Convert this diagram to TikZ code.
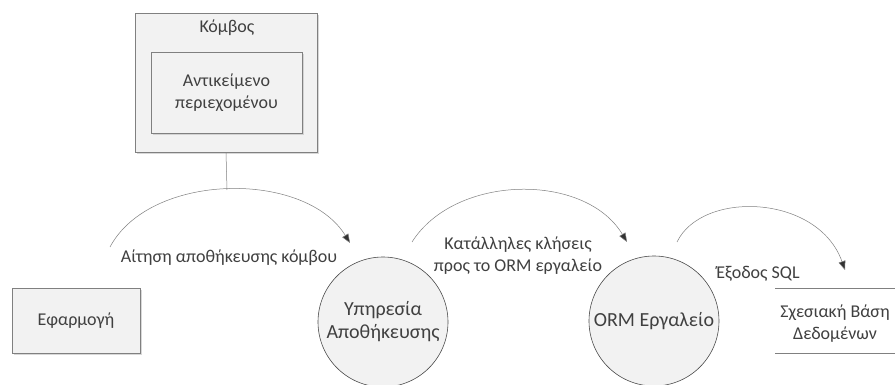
\documentclass[tikz,border=0pt]{standalone}
\usepackage{fontspec}
\setmainfont{Carlito}
\usetikzlibrary{shadows,arrows.meta}
\definecolor{txt}{RGB}{64,64,64}
\definecolor{edge}{RGB}{128,128,128}
\definecolor{boxfill}{RGB}{242,242,242}
\definecolor{tipc}{RGB}{50,50,50}
\tikzset{
  every node/.style={font=\fontsize{18}{22}\selectfont, text=txt, align=center, inner sep=0pt},
  box/.style={draw=edge, fill=boxfill, line width=0.7pt,
    drop shadow={shadow xshift=2pt, shadow yshift=-2pt, fill=black!25, opacity=0.6}},
  procnode/.style={circle, draw=black!70, fill=boxfill, line width=0.6pt, minimum size=130pt,
    font=\fontsize{20}{23}\selectfont},
  flow/.style={draw=edge, line width=0.5pt, -{Triangle[length=9pt,width=7pt,fill=tipc]}},
  plain/.style={draw=edge, line width=0.5pt},
  storeline/.style={draw=edge, line width=0.7pt}
}
\begin{document}
\begin{tikzpicture}[x=1pt,y=-1pt]
\useasboundingbox (0,0) rectangle (895,385);
\clip (0,0) rectangle (895,385);
\fill[white] (0,0) rectangle (895,385);
% Node box
\node[box, minimum width=182pt, minimum height=139pt] (kombos) at (226,82.5) {};
\node (kombosl) at (227,28) {Κόμβος};
\node[box, draw=black!50, minimum width=151pt, minimum height=81pt] (content) at (226.5,92.5) {Αντικείμενο\\περιεχομένου};
% Application
\node[box, minimum width=128pt, minimum height=65pt] (app) at (76,320.5) {Εφαρμογή};
% processes
\node[procnode] (svc) at (383,322) {Υπηρεσία\\Αποθήκευσης};
\node[procnode] (orm) at (654,321) {ORM Εργαλείο};
% data store
\coordinate (dbtl) at (775,288);
\coordinate (dbtr) at (900,288);
\coordinate (dbbl) at (775,353);
\coordinate (dbbr) at (900,353);
\draw[storeline] (dbtl) -- (dbtr);
\draw[storeline] (dbbl) -- (dbbr);
\node (db) at (835,324) {Σχεσιακή Βάση\\Δεδομένων};
% arcs
\coordinate (a1s) at (110,247);
\coordinate (a1t) at (227,190);
\coordinate (a1e) at (350,243);
\draw[plain] (kombos.south) -- (a1t);
\draw[flow] (a1s) .. controls (150,172) and (305,170) .. (a1e);
\node (l1) at (229,258) {Αίτηση αποθήκευσης κόμβου};
\coordinate (a2s) at (412,242);
\coordinate (a2e) at (627,242);
\draw[flow] (a2s) .. controls (455,174) and (585,172) .. (a2e);
\node (l2) at (518,256) {Κατάλληλες κλήσεις\\προς το ORM εργαλείο};
\coordinate (a3s) at (677,242);
\coordinate (a3e) at (845,270);
\draw[flow] (a3s) .. controls (702,190) and (818,194) .. (a3e);
\node (l3) at (758,274) {Έξοδος SQL};
\end{tikzpicture}
\end{document}
